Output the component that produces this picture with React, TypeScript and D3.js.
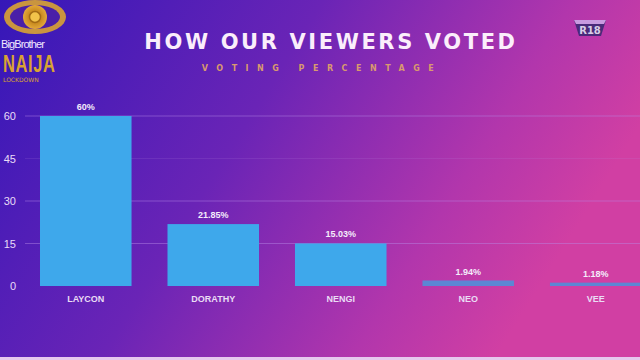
import React from "react";
import * as d3 from "d3";

const categories = ["LAYCON", "DORATHY", "NENGI", "NEO", "VEE"];
const values = [60, 21.85, 15.03, 1.94, 1.18];
const valueLabels = ["60%", "21.85%", "15.03%", "1.94%", "1.18%"];
const yTicks = [0, 15, 30, 45, 60];
const gridTicks = [15, 30, 45, 60];

const W = 640;
const H = 360;

export default function App() {
  const x = d3
    .scaleBand<string>()
    .domain(categories)
    .range([40, 641.5])
    .paddingInner(0.282)
    .paddingOuter(0);
  const y = d3.scaleLinear().domain([0, 60]).range([286, 116]);

  return (
    <svg
      width={W}
      height={H}
      style={{ position: "absolute", left: 0, top: 0 }}
      viewBox={`0 0 ${W} ${H}`}
    >
      <defs>
        <linearGradient id="bg" x1="0" y1="0" x2="1" y2="0.35">
          <stop offset="0" stopColor="#3517b8" />
          <stop offset="0.45" stopColor="#6a24b6" />
          <stop offset="0.8" stopColor="#b236ac" />
          <stop offset="1" stopColor="#d13fa3" />
        </linearGradient>
        <radialGradient id="eye" cx="0.5" cy="0.5" r="0.5">
          <stop offset="0" stopColor="#f6c843" />
          <stop offset="0.5" stopColor="#c8891e" />
          <stop offset="1" stopColor="#e3a93a" />
        </radialGradient>
      </defs>
      <rect x={0} y={0} width={W} height={H} fill="url(#bg)" />
      <rect x={0} y={357} width={W} height={3} fill="#e6c8ee" />

      {/* Logo */}
      <g>
        <ellipse cx={35} cy={17} rx={31} ry={17} fill="#d9a332" opacity={0.9} />
        <ellipse cx={35} cy={17} rx={25} ry={12} fill="#4a1fa8" />
        <circle cx={35} cy={17} r={12} fill="url(#eye)" />
        <circle cx={35} cy={17} r={5.5} fill="#f2c34a" stroke="#a26a14" strokeWidth={1.5} />
        <text x={1} y={48} fontFamily="Liberation Sans, sans-serif" fontSize={11} fill="#f2e6ff" letterSpacing={-0.9}>
          BigBrother
        </text>
        <g transform="translate(3,72) scale(1,1.4)">
          <text x={0} y={0} fontFamily="Liberation Sans, sans-serif" fontWeight={700} fontSize={16.5} fill="#d9a332" letterSpacing={0.6}>
            NAIJA
          </text>
        </g>
        <text x={3} y={82} fontFamily="DejaVu Sans, sans-serif" fontSize={6} fill="#d9a332">
          LOCKDOWN
        </text>
      </g>

      {/* R18 badge */}
      <g>
        <path d="M574,20 L606,20 L601,36 L579,36 Z" fill="#4a2a7a" />
        <path d="M574,20 L606,20 L604,24 L576,24 Z" fill="#c99ae0" />
        <text x={590} y={34} textAnchor="middle" fontFamily="DejaVu Sans, sans-serif" fontWeight={700} fontSize={10} fill="#d9cfe6">
          R18
        </text>
      </g>

      {/* Titles */}
      <text
        x={331}
        y={49}
        textAnchor="middle"
        fontFamily="DejaVu Sans, sans-serif"
        fontWeight={700}
        fontSize={21}
        letterSpacing={2.6}
        fill="#fbeefb"
      >
        HOW OUR VIEWERS VOTED
      </text>
      <text
        x={322}
        y={71}
        textAnchor="middle"
        fontFamily="DejaVu Sans, sans-serif"
        fontWeight={700}
        fontSize={8}
        letterSpacing={8.5}
        fill="#d99a6e"
      >
        VOTING PERCENTAGE
      </text>

      {/* Gridlines */}
      {gridTicks.map((t) => (
        <line
          key={t}
          x1={25}
          x2={W}
          y1={y(t)}
          y2={y(t)}
          stroke="#b98ae6"
          strokeOpacity={t === 45 ? 0.15 : 0.45}
          strokeWidth={1}
        />
      ))}

      {/* Y tick labels */}
      {yTicks.map((t) => (
        <text
          key={t}
          x={16}
          y={y(t) + 4}
          textAnchor="end"
          fontFamily="Liberation Sans, sans-serif"
          fontSize={11}
          fill="#e9dcf7"
        >
          {t}
        </text>
      ))}

      {/* Bars */}
      {categories.map((c, i) => {
        const small = values[i] < 5;
        const bx = x(c)!;
        const bw = x.bandwidth();
        const top = y(values[i]);
        return (
          <g key={c}>
            <rect
              x={bx}
              y={top}
              width={bw}
              height={y(0) - top}
              fill={small ? "#5c86d4" : "#3ea8eb"}
            />
            <text
              x={bx + bw / 2}
              y={top - 6}
              textAnchor="middle"
              fontFamily="Liberation Sans, sans-serif"
              fontWeight={700}
              fontSize={9}
              fill="#f4ecfb"
            >
              {valueLabels[i]}
            </text>
            <text
              x={bx + bw / 2}
              y={302}
              textAnchor="middle"
              fontFamily="Liberation Sans, sans-serif"
              fontWeight={700}
              fontSize={9}
              fill="#eadcf5"
            >
              {c}
            </text>
          </g>
        );
      })}
    </svg>
  );
}
